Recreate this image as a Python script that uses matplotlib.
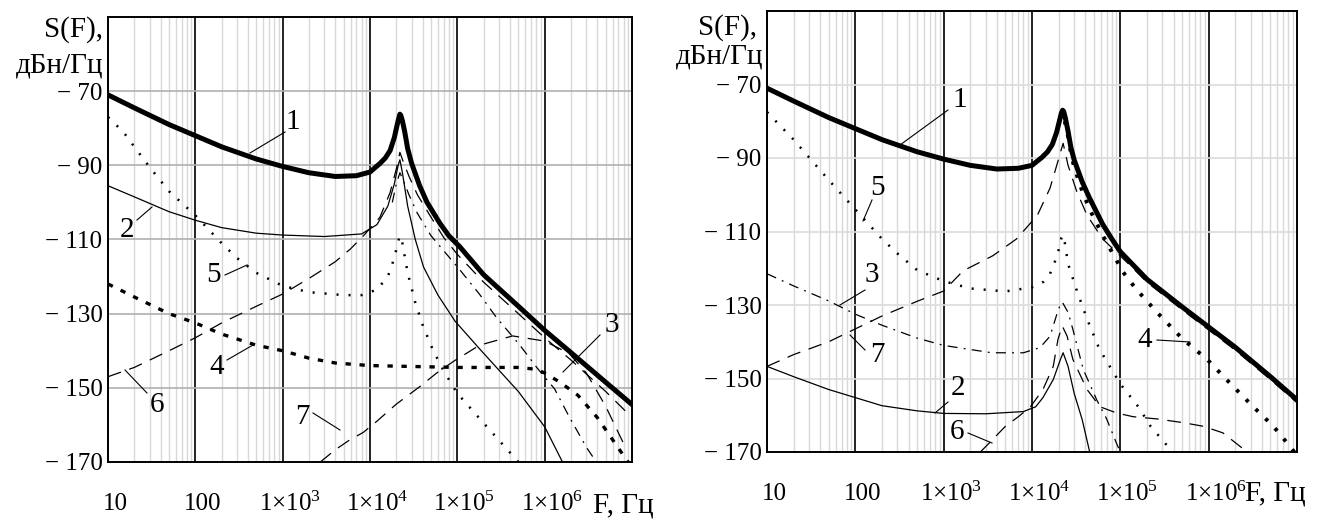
import matplotlib
matplotlib.use('Agg')
import matplotlib.pyplot as plt
from matplotlib.ticker import LogLocator, NullFormatter
import matplotlib.transforms as mtransforms

plt.rcParams['font.family'] = ['Liberation Serif', 'DejaVu Serif']
plt.rcParams['mathtext.fontset'] = 'custom'
plt.rcParams['mathtext.rm'] = 'Liberation Serif'

# ---- левая диаграмма ----
f_l1 = [10, 20, 50, 100, 200, 500, 1e3, 2e3, 4e3, 7e3, 1e4, 1.3e4, 1.5e4, 1.7e4, 1.9e4,
        2.05e4, 2.15e4, 2.2e4, 2.25e4, 2.35e4, 2.5e4, 2.7e4, 3e4, 3.7e4, 4.5e4, 6.3e4, 8e4,
        1.07e5, 2e5, 5e5, 1e6, 2e6, 5e6, 1e7]
s_l1 = [-71, -74.5, -79, -82, -85, -88.3, -90.3, -92, -93, -92.8, -91.8, -89.5, -88, -86,
        -82.5, -79, -77, -76.2, -76.5, -78, -81, -85.5, -89.5, -95.5, -100, -105.6, -109,
        -112, -119.5, -128, -134.5, -140.5, -148.5, -154.5]

f_l2 = [10, 20, 50, 100, 200, 500, 1e3, 3e3, 8e3, 1.2e4, 1.6e4, 1.9e4, 2.1e4, 2.2e4,
        2.35e4, 2.7e4, 3.3e4, 4.1e4, 6e4, 9.4e4, 1.8e5, 5e5, 1e6, 1.6e6]
s_l2 = [-95.5, -98.5, -102.5, -104.8, -106.8, -108.3, -108.8, -109.2, -108.5, -106, -101, -95,
        -90, -88.5, -92, -101, -110, -117.4, -125, -132, -139.5, -151, -160.5, -170]

f_l3 = [1.8e4, 2e4, 2.2e4, 2.4e4, 2.8e4, 3.5e4, 5e4, 1.07e5, 1.8e5, 2.8e5, 5.2e5, 8.3e5,
        1.3e6, 1.9e6, 3e6, 3.9e6]
s_l3 = [-100, -95, -92, -94, -98, -103, -109, -118.2, -124.8, -131, -138.5, -144.8,
        -150.3, -157.7, -166, -170]

f_l4 = [10, 20, 50, 100, 200, 500, 1e3, 2e3, 4e3, 1e4, 1e5, 5e5, 8e5, 1e6, 1.5e6, 2.4e6,
        4e6, 6e6, 9e6]
s_l4 = [-122, -125.5, -130, -132.5, -135.5, -138.5, -140, -142, -143.3, -144, -144.5, -144.5,
        -145, -146, -148.5, -152, -158, -164, -170]

f_l5 = [10, 15, 20, 30, 50, 100, 200, 300, 500, 1e3, 2e3, 5e3, 8e3, 1.2e4, 1.6e4, 1.9e4,
        2.1e4, 2.2e4, 2.35e4, 2.7e4, 3.3e4, 4e4, 5.3e4, 7e4, 1e5, 2e5, 5e5]
s_l5 = [-77, -81, -85, -90.5, -97, -103.5, -111, -115, -119, -122.5, -124.2, -125, -125,
        -123.5, -120, -115, -110.5, -109, -111, -119, -127, -133, -140, -145.5, -151.5,
        -159.5, -170]

f_l6 = [10, 20, 50, 100, 200, 500, 1e3, 2e3, 4e3, 6e3, 8.4e3, 1.3e4, 1.7e4, 2e4, 2.2e4,
        2.4e4, 2.8e4, 3.5e4, 5e4, 7e4, 1e5, 2e5, 5e5, 1e6, 2e6, 5e6, 1e7]
s_l6 = [-147, -144.5, -140, -136.5, -132.5, -128, -124.7, -120.5, -116, -112.5, -109, -104,
        -97.3, -91, -86.5, -89, -93, -98, -104, -109.5, -114, -121.5, -130, -136.5, -142.5,
        -151, -158]

f_l7 = [2.7e3, 4e3, 5.9e3, 8.4e3, 1.2e4, 2e4, 3.8e4, 5.8e4, 9.4e4, 1.8e5, 4.3e5, 1e6,
        1.9e6, 3e6, 5e6, 8e6]
s_l7 = [-170, -166.7, -164, -162, -159, -154.4, -149.5, -146, -142.6, -138.5, -136, -137.4,
        -140.7, -146, -155, -165]

# ---- правая диаграмма ----
f_r1 = [10, 20, 50, 100, 200, 500, 1e3, 2e3, 4e3, 7e3, 1e4, 1.3e4, 1.5e4, 1.7e4, 1.9e4,
        2.05e4, 2.15e4, 2.22e4, 2.28e4, 2.38e4, 2.55e4, 2.75e4, 3e4, 3.7e4, 4.5e4, 6.3e4,
        8e4, 1e5, 2e5, 5e5, 1e6, 2e6, 5e6, 1e7]
s_r1 = [-71, -74.5, -79, -82, -85, -88.3, -90.3, -92, -93, -92.8, -92, -89.8, -88.3, -86.3,
        -83, -79.8, -77.8, -77, -77.3, -79, -82.5, -87, -90.5, -96.5, -101, -108, -112,
        -115.5, -123, -130.5, -136, -141.5, -149.5, -155.8]

f_r2 = [10, 20, 50, 100, 200, 500, 1e3, 3e3, 8e3, 1.1e4, 1.33e4, 1.74e4, 2.1e4, 2.25e4,
        2.56e4, 3e4, 3.7e4, 4.5e4]
s_r2 = [-146.7, -149.5, -153, -155.2, -157.4, -158.8, -159.5, -159.6, -159, -157.7, -155.2,
        -150.3, -144.8, -143, -146.7, -154, -161.2, -170]

f_r3 = [10, 20, 50, 100, 200, 500, 1e3, 3.5e3, 8e3, 1.23e4, 1.6e4, 2e4, 2.2e4, 2.56e4,
        2.9e4, 3.8e4, 5.4e4, 7e4, 9e4, 1e5]
s_r3 = [-121.5, -124.8, -128.9, -132.5, -135.5, -139, -141, -143, -143, -141.6, -138.5, -131,
        -129.2, -132, -136.6, -147.5, -155.8, -161, -167.5, -170]

f_r4 = [2.35e4, 2.55e4, 2.75e4, 3e4, 3.7e4, 4.5e4, 6.3e4, 8e4, 1.07e5, 1.5e5, 2.6e5, 5.1e5,
        9.6e5, 1.7e6, 3.2e6, 5.4e6, 8.4e6, 1e7]
s_r4 = [-80, -84, -88.5, -92.5, -99, -104, -111, -115.5, -121, -125.6, -132, -139.3,
        -144.8, -151, -157.7, -163, -168.6, -171]

f_r5 = [10, 20, 50, 100, 200, 300, 500, 1e3, 2e3, 5e3, 1e4, 1.35e4, 1.6e4, 1.8e4, 2e4,
        2.15e4, 2.25e4, 2.35e4, 2.56e4, 3.25e4, 4.2e4, 5.8e4, 1e5, 1.6e5, 2.2e5, 3.6e5, 4e5]
s_r5 = [-77.5, -85, -96, -104, -112, -116, -120.5, -123.5, -125.5, -126.3, -125.2, -123.7,
        -121.5, -118.5, -115, -111.8, -111, -113, -118.8, -126.4, -133.8, -142, -151.5,
        -157.7, -163, -169, -170.5]

f_r6 = [2.6e3, 3.3e3, 5e3, 7e3, 9.6e3, 1.33e4, 1.74e4, 1.97e4, 2.2e4, 2.5e4, 2.9e4, 4.2e4,
        5.9e4, 9.1e4, 1.4e5, 2.6e5, 5.1e5, 8.7e5, 1.45e6, 2.3e6, 2.7e6]
s_r6 = [-170, -167.5, -163, -160.4, -157.7, -153, -146.7, -139.3, -135.7, -138.5, -144.8,
        -153, -157.7, -159.4, -160.4, -161, -162, -163, -164.8, -168.6, -170]

f_r7 = [10, 20, 50, 100, 200, 500, 1e3, 1.66e3, 3.6e3, 6.7e3, 1.15e4, 1.6e4, 1.97e4, 2.25e4,
        2.56e4, 3.2e4, 4.2e4, 6.3e4, 1.2e5, 2e5, 5e5, 1e6, 2e6, 5e6, 1e7]
s_r7 = [-146.7, -143.5, -140, -136.5, -133, -129, -126.2, -120.7, -116.6, -112, -105.6, -98.2,
        -90.8, -86, -92, -99, -105.6, -112, -118.5, -123.8, -131.3, -136.8, -142.3, -150.3,
        -156.6]

y_ticks = [-70, -90, -110, -130, -150, -170]
x_ticks = [10, 100, 1e3, 1e4, 1e5, 1e6]
x_tick_labels = ['10', '100', r'$\mathregular{1{\times}10^{3}}$', r'$\mathregular{1{\times}10^{4}}$',
                 r'$\mathregular{1{\times}10^{5}}$', r'$\mathregular{1{\times}10^{6}}$']

# стили линий
st_1 = dict(color='black', lw=3.6, ls='-')
st_2 = dict(color='black', lw=0.9, ls='-')
st_3 = dict(color='black', lw=0.9, ls=(0, (8, 5, 1.5, 5)))
st_4l = dict(color='black', lw=2.4, ls=(0, (1.6, 2.6)))
st_4r = dict(color='black', lw=2.8, ls=(0, (0.9, 2.6)))
st_5 = dict(color='black', lw=1.8, ls=(0, (0.8, 4.0)))
st_6 = dict(color='black', lw=0.9, ls=(0, (11, 7)))
st_7 = dict(color='black', lw=0.9, ls=(0, (11, 7)))

fig = plt.figure(figsize=(13.31, 5.20), dpi=100)
ax_l = fig.add_axes([108 / 1331, 58 / 520, 524 / 1331, 445 / 520])
ax_r = fig.add_axes([767 / 1331, 68 / 520, 530 / 1331, 441 / 520])


def setup(ax, hgrid_color):
    ax.set_xscale('log')
    ax.set_xlim(10, 1e7)
    ax.set_ylim(-170, -50)
    ax.xaxis.set_major_locator(LogLocator(base=10))
    ax.xaxis.set_minor_locator(LogLocator(base=10, subs=range(2, 10)))
    ax.xaxis.set_minor_formatter(NullFormatter())
    ax.set_xticks(x_ticks)
    ax.set_xticklabels([])
    ax.set_yticks(y_ticks)
    ax.set_yticklabels(['\u2212 ' + str(-v) for v in y_ticks], fontsize=18)
    ax.tick_params(which='both', length=0, pad=4)
    ax.grid(True, which='minor', axis='x', color='#d8d8d8', lw=1.0)
    ax.grid(True, which='major', axis='x', color='#222222', lw=1.4)
    ax.grid(True, which='major', axis='y', color=hgrid_color, lw=1.2)
    ax.set_axisbelow(True)
    for sp in ax.spines.values():
        sp.set_linewidth(1.4)
    # подписи оси X
    for xv, lab in zip(x_ticks, x_tick_labels):
        tr = mtransforms.offset_copy(ax.get_xaxis_transform(), fig=fig, x=5, y=0, units='points')
        ax.text(xv, -0.095, lab, transform=tr, ha='center', va='center', fontsize=18)


setup(ax_l, '#b0b0b0')
setup(ax_r, '#dcdcdc')

ax_l.plot(f_l7, s_l7, **st_7)
ax_l.plot(f_l6, s_l6, **st_6)
ax_l.plot(f_l3, s_l3, **st_3)
ax_l.plot(f_l2, s_l2, **st_2)
ax_l.plot(f_l5, s_l5, **st_5)
ax_l.plot(f_l4, s_l4, **st_4l)
ax_l.plot(f_l1, s_l1, **st_1)

ax_r.plot(f_r7, s_r7, **st_7)
ax_r.plot(f_r6, s_r6, **st_6)
ax_r.plot(f_r3, s_r3, **st_3)
ax_r.plot(f_r2, s_r2, **st_2)
ax_r.plot(f_r5, s_r5, **st_5)
ax_r.plot(f_r4, s_r4, **st_4r)
ax_r.plot(f_r1, s_r1, **st_1)

# выноски с номерами кривых (координаты в пикселях рисунка)
labels_l = [('1', (293, 122), (285, 132), (250, 153)),
            ('2', (127, 230), (137, 220), (152, 207)),
            ('5', (213, 275), (225, 275), (247, 265)),
            ('4', (217, 367), (227, 360), (253, 345)),
            ('6', (157, 405), (147, 393), (125, 370)),
            ('7', (302, 417), (313, 413), (340, 430)),
            ('3', (612, 325), (600, 335), (563, 372))]
labels_r = [('1', (960, 100), (948, 110), (900, 145)),
            ('5', (877, 188), (872, 200), (863, 221)),
            ('3', (872, 275), (865, 290), (840, 305)),
            ('7', (877, 355), (865, 350), (850, 335)),
            ('2', (958, 388), (948, 402), (935, 413)),
            ('6', (957, 432), (968, 433), (992, 443)),
            ('4', (1145, 340), (1157, 340), (1190, 342))]


def px(p):
    return fig.transFigure.inverted().transform((p[0], 520 - p[1]))


for lab, tp, a, b in labels_l + labels_r:
    fig.add_artist(plt.Line2D([px(a)[0], px(b)[0]], [px(a)[1], px(b)[1]], color='black',
                              lw=0.8, transform=fig.transFigure))
    fig.text(*px(tp), lab, ha='center', va='center', fontsize=21)

# подписи осей
fig.text(*px((103, 30)), 'S(F),', ha='right', va='center', fontsize=21)
fig.text(*px((103, 65)), 'дБн/Гц', ha='right', va='center', fontsize=21)
fig.text(*px((757, 28)), 'S(F),', ha='right', va='center', fontsize=21)
fig.text(*px((763, 57)), 'дБн/Гц', ha='right', va='center', fontsize=21)
fig.text(*px((623, 505)), 'F, Гц', ha='center', va='center', fontsize=21)
fig.text(*px((1275, 493)), 'F, Гц', ha='center', va='center', fontsize=21)

plt.savefig('out.png', dpi=100)
